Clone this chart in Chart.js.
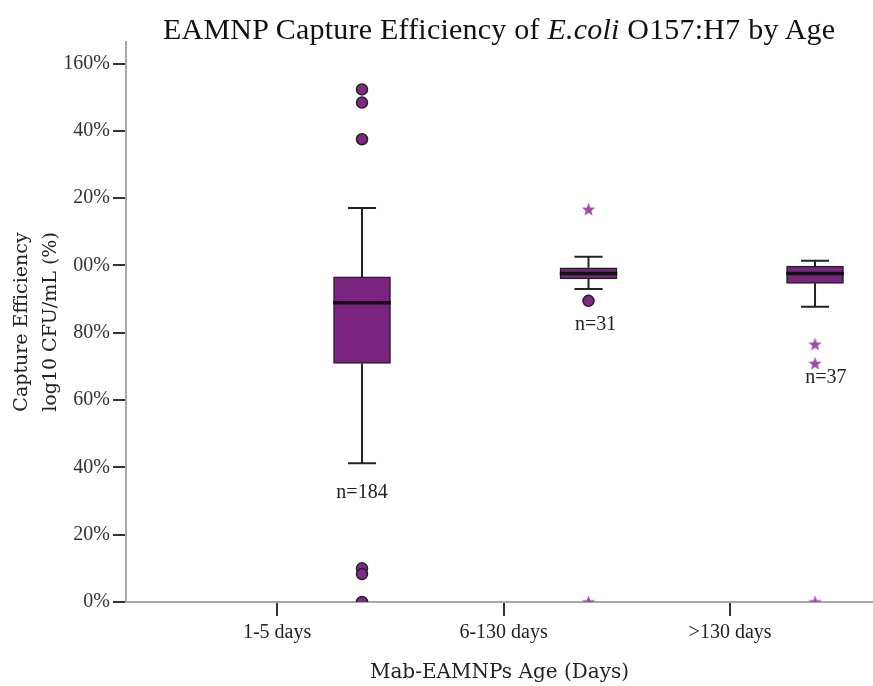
<!DOCTYPE html>
<html>
<head>
<meta charset="utf-8">
<script src="https://cdn.jsdelivr.net/npm/chart.js@4/dist/chart.umd.min.js"></script>
<style>
  html, body { margin: 0; padding: 0; background: #fff; }
  #wrap { position: relative; width: 873px; height: 686px; }
  #title { position: absolute; left: 163px; top: 14px; font: 30px/30px "Liberation Serif", serif; letter-spacing: 0.22px; color: #111; white-space: nowrap; }
  canvas { position: absolute; left: 0; top: 0; }
</style>
</head>
<body>
<div id="wrap">
  <canvas id="c" width="873" height="686"></canvas>
  <div id="title">EAMNP Capture Efficiency of <i>E.coli</i> O157:H7 by Age</div>
</div>
<script>
// ---- data ----
const categories = ['1-5 days', '6-130 days', '>130 days'];
const boxQ1 = [70.9, 96.0, 94.7];
const boxMedian = [88.9, 97.6, 97.6];
const boxQ3 = [96.6, 99.3, 99.8];
const whiskerLow = [41.2, 93.0, 87.7];
const whiskerHigh = [117.1, 102.6, 101.4];
const outlierCircles = [[152.3, 148.4, 137.5, 10.0, 8.3, 0], [89.5], []];
const outlierStars = [[], [116.7, 0], [76.6, 70.9, 0]];
const sampleSizes = ['n=184', 'n=31', 'n=37'];
const sampleLabelY = [32.5, 82.3, 66.5];
const yTickValues = [0, 20, 40, 60, 80, 100, 120, 140, 160];
const yTickLabels = ['0%', '20%', '40%', '60%', '80%', '00%', '20%', '40%', '160%'];

// ---- layout constants ----
const SHIFT = 0.375;      // boxes sit right of the category tick
const HALF_BOX = 0.127;   // half box width in category units
const HALF_CAP = 0.062;   // half whisker-cap width
const LABEL_DX = [0, 0.031, 0.048];
const PURPLE = '#7A2380';
const STAR = '#9C4BA8';
const FONT = 'Liberation Serif';
const TITLE_FONT = 'DejaVu Serif';

const pos = categories.map((c, i) => i + SHIFT);

const boxData = categories.map((c, i) => ({ x: pos[i], y: [boxQ1[i], boxQ3[i]] }));
const medianData = [];
const whiskerData = [];
categories.forEach((c, i) => {
  const p = pos[i];
  medianData.push({ x: p - HALF_BOX, y: boxMedian[i] }, { x: p + HALF_BOX, y: boxMedian[i] }, { x: p, y: null });
  whiskerData.push(
    { x: p, y: boxQ3[i] }, { x: p, y: whiskerHigh[i] }, { x: p, y: null },
    { x: p - HALF_CAP, y: whiskerHigh[i] }, { x: p + HALF_CAP, y: whiskerHigh[i] }, { x: p, y: null },
    { x: p, y: boxQ1[i] }, { x: p, y: whiskerLow[i] }, { x: p, y: null },
    { x: p - HALF_CAP, y: whiskerLow[i] }, { x: p + HALF_CAP, y: whiskerLow[i] }, { x: p, y: null }
  );
});
const circleData = [];
outlierCircles.forEach((arr, i) => arr.forEach(v => circleData.push({ x: pos[i], y: v })));
const starData = [];
outlierStars.forEach((arr, i) => arr.forEach(v => starData.push({ x: pos[i], y: v })));

// filled five-point star marker
const starImg = document.createElement('canvas');
starImg.width = 15; starImg.height = 15;
(function () {
  const g = starImg.getContext('2d');
  g.fillStyle = STAR;
  g.beginPath();
  for (let k = 0; k < 10; k++) {
    const r = k % 2 === 0 ? 7 : 2.9;
    const a = -Math.PI / 2 + k * Math.PI / 5;
    const px = 7.5 + r * Math.cos(a), py = 8 + r * Math.sin(a);
    k === 0 ? g.moveTo(px, py) : g.lineTo(px, py);
  }
  g.closePath();
  g.fill();
})();

const nLabels = {
  id: 'nLabels',
  afterDatasetsDraw(chart) {
    const { ctx, scales: { x, y } } = chart;
    ctx.save();
    ctx.font = '20px "' + FONT + '"';
    ctx.fillStyle = '#222';
    ctx.textAlign = 'center';
    ctx.textBaseline = 'middle';
    sampleSizes.forEach((t, i) => {
      ctx.fillText(t, x.getPixelForValue(pos[i] + LABEL_DX[i]), y.getPixelForValue(sampleLabelY[i]));
    });
    ctx.restore();
  }
};

new Chart(document.getElementById('c'), {
  type: 'bar',
  data: {
    datasets: [
      { type: 'bar', data: boxData, backgroundColor: PURPLE, borderColor: '#222', borderWidth: 1.5,
        borderSkipped: false, barThickness: 57, order: 4 },
      { type: 'scatter', data: medianData, showLine: true, borderColor: '#111', borderWidth: 3.5,
        pointRadius: 0, spanGaps: false, order: 2 },
      { type: 'scatter', data: whiskerData, showLine: true, borderColor: '#222', borderWidth: 2,
        pointRadius: 0, spanGaps: false, order: 3 },
      { type: 'scatter', data: circleData, pointStyle: 'circle', pointRadius: 5.5, backgroundColor: '#7E2A84',
        borderColor: '#222', borderWidth: 1.5, order: 1 },
      { type: 'scatter', data: starData, pointStyle: starImg, pointRadius: 7, order: 0 }
    ]
  },
  options: {
    responsive: false,
    animation: false,
    devicePixelRatio: 1,
    layout: { autoPadding: false, padding: { top: 42, left: 0, right: 0, bottom: 0 } },
    plugins: { legend: { display: false }, tooltip: { enabled: false }, title: { display: false } },
    scales: {
      x: {
        type: 'linear', min: -0.667, max: 2.631, offset: false,
        afterBuildTicks: s => { s.ticks = categories.map((c, i) => ({ value: i })); },
        afterFit: s => { s.height = 84; s.paddingLeft = 0; s.paddingRight = 0; },
        ticks: { callback: v => categories[v], color: '#222', font: { family: FONT, size: 20 }, padding: 5, maxRotation: 0, autoSkip: false },
        grid: { offset: false, drawOnChartArea: false, drawTicks: true, tickLength: 14, tickColor: '#333', tickWidth: 2, lineWidth: 2 },
        border: { display: true, color: '#a8a8a8', width: 2 },
        title: { display: true, text: 'Mab-EAMNPs Age (Days)', color: '#222', font: { family: TITLE_FONT, size: 20, lineHeight: 1.2 }, padding: { top: 0, bottom: 1 } }
      },
      y: {
        type: 'linear', min: 0, max: 166.4,
        afterBuildTicks: s => { s.ticks = yTickValues.map(v => ({ value: v })); },
        afterFit: s => { s.width = 126; },
        ticks: { callback: (v) => yTickLabels[yTickValues.indexOf(v)], color: '#333', font: { family: FONT, size: 20 }, padding: 3 },
        grid: { drawOnChartArea: false, drawTicks: true, tickLength: 13, tickColor: '#333', tickWidth: 2, lineWidth: 2 },
        border: { display: true, color: '#a8a8a8', width: 2 },
        title: { display: true, text: ['Capture Efficiency', 'log10 CFU/mL (%)'], color: '#222', font: { family: TITLE_FONT, size: 19, lineHeight: 1.55 }, padding: { top: 7, bottom: 0 } }
      }
    }
  },
  plugins: [nLabels]
});
</script>
</body>
</html>
